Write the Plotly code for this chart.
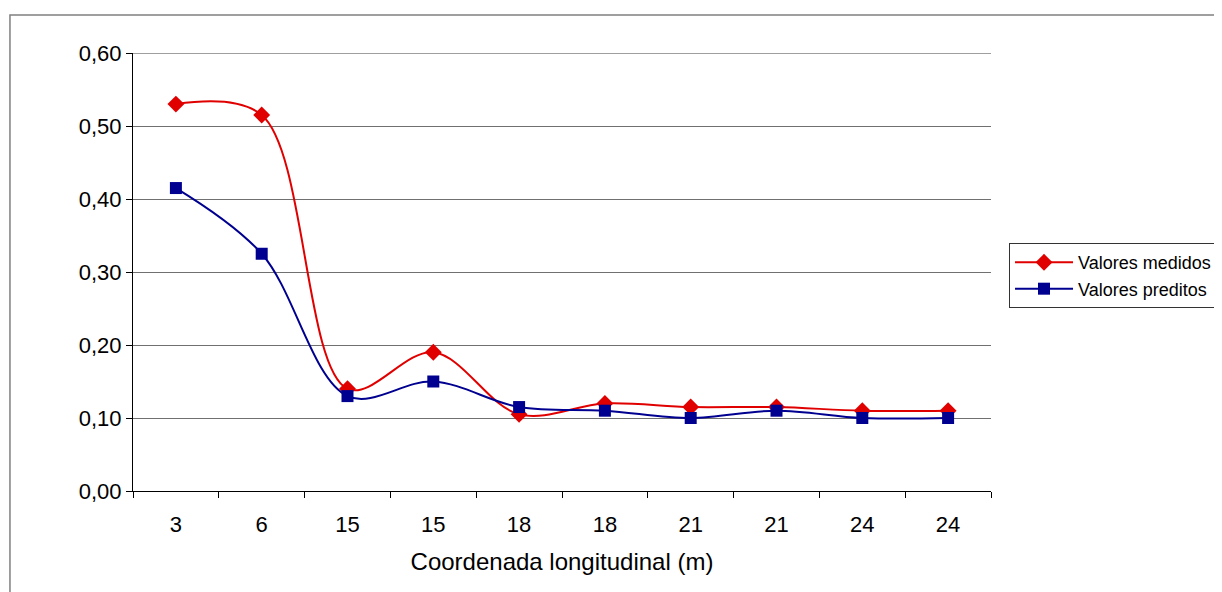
import plotly.graph_objects as go

categorias = ["3", "6", "15", "15", "18", "18", "21", "21", "24", "24"]
valores_medidos = [0.53, 0.515, 0.14, 0.19, 0.105, 0.12, 0.115, 0.115, 0.11, 0.11]
valores_preditos = [0.415, 0.325, 0.13, 0.15, 0.115, 0.11, 0.10, 0.11, 0.10, 0.10]
y_ticks = [0.0, 0.1, 0.2, 0.3, 0.4, 0.5, 0.6]

posicoes = list(range(len(categorias)))
FONT = "Liberation Sans, Arial, sans-serif"
GRID = "#707070"

fig = go.Figure()
fig.add_trace(go.Scatter(
    x=posicoes, y=valores_medidos, name="Valores medidos",
    mode="lines+markers", line=dict(color="#E00000", width=2, shape="spline"),
    marker=dict(symbol="diamond", size=13, color="#E00000"),
))
fig.add_trace(go.Scatter(
    x=posicoes, y=valores_preditos, name="Valores preditos",
    mode="lines+markers", line=dict(color="#000090", width=2, shape="spline"),
    marker=dict(symbol="square", size=12, color="#000090"),
))

fig.update_layout(
    width=1222, height=592,
    margin=dict(l=125, r=239, t=45, b=109),
    paper_bgcolor="white", plot_bgcolor="white",
    separators=",.",
    font=dict(family=FONT, size=22, color="black"),
    legend=dict(
        x=1.021, y=0.566, xanchor="left", yanchor="top",
        bordercolor="#333333", borderwidth=1,
        font=dict(size=18), itemwidth=58, tracegroupgap=0,
    ),
    xaxis=dict(
        range=[-0.5, len(categorias) - 0.5],
        tickmode="array", tickvals=posicoes, ticktext=categorias,
        ticks="", showgrid=False, zeroline=False,
        showline=True, linecolor="black", linewidth=1,
        ticklabelstandoff=14,
        minor=dict(tick0=-0.5, dtick=1, ticks="outside", ticklen=6,
                   tickcolor="black", showgrid=False),
        title=dict(text="Coordenada longitudinal (m)", standoff=16,
                   font=dict(size=24)),
    ),
    yaxis=dict(
        range=[y_ticks[0], y_ticks[-1]], tickmode="array", tickvals=y_ticks,
        tickformat=".2f",
        ticks="outside", ticklen=6, tickcolor="black",
        showline=True, linecolor="black", linewidth=1,
        showgrid=True, gridcolor=GRID, gridwidth=1, zeroline=False,
    ),
    shapes=[
        dict(
            type="rect", xref="paper", yref="paper",
            x0=-0.1434, x1=1.28, y0=-0.26, y1=1.0868,
            line=dict(color="#808080", width=1.5), fillcolor="rgba(0,0,0,0)",
            layer="below",
        ),
        dict(
            type="line", xref="paper", yref="y",
            x0=0, x1=1, y0=y_ticks[-1], y1=y_ticks[-1],
            line=dict(color="#404040", width=1), layer="below",
        ),
    ],
)

fig.write_html("out.html")
